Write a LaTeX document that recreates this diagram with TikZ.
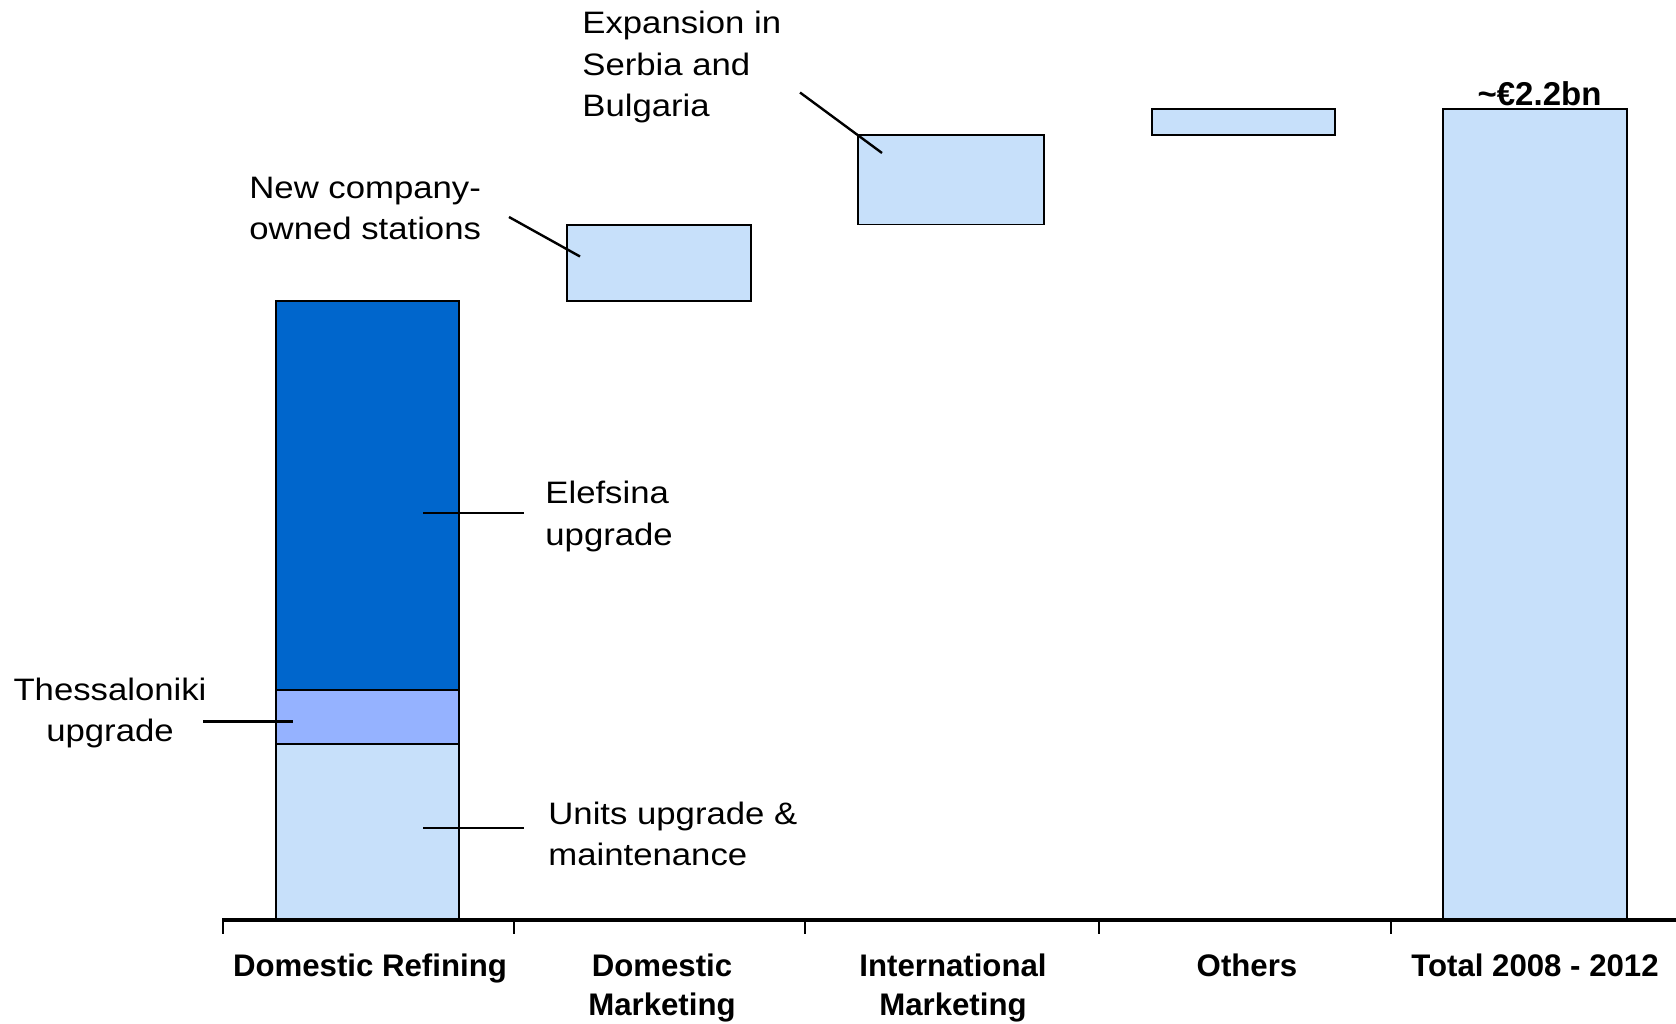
\documentclass[tikz,border=0pt]{standalone}
\usepackage{fontspec}
\setmainfont{Liberation Sans}
\usepackage{graphicx}
\usepackage{tikz}
\usetikzlibrary{positioning}

\definecolor{lightbar}{RGB}{199,224,250}
\definecolor{darkbar}{RGB}{0,102,204}
\definecolor{midbar}{RGB}{149,178,255}

% text lines, slightly widened like the slide font
\newcommand{\widetext}[2][l]{\scalebox{1.12}[1]{\begin{tabular}[t]{@{}#1@{}}#2\end{tabular}}}
\newcommand{\cattext}[1]{\begin{tabular}[t]{@{}c@{}}#1\end{tabular}}

\tikzset{
  bar/.style={draw=black, line width=0.9pt},
  leader/.style={draw=black, line width=1.2pt},
  note/.style={inner sep=0pt, font=\fontsize{15.5}{20.75}\selectfont},
  catlabel/.style={inner sep=0pt, anchor=base, font=\fontsize{15.6}{19.5}\selectfont\bfseries},
}

\begin{document}
\begin{tikzpicture}[x=0.5pt, y=-0.5pt]
  \useasboundingbox (0,0) rectangle (1676,1023);

  % draw the Domestic Refining bar in three parts
  \filldraw[bar, fill=lightbar] (276,920) rectangle (459,744);
  \filldraw[bar, fill=midbar] (276,744) rectangle (459,690);
  \filldraw[bar, fill=darkbar] (276,690) rectangle (459,301);

  % draw the floating bars
  \filldraw[bar, fill=lightbar] (567,301) rectangle (751,225);
  \filldraw[bar, fill=lightbar] (858,224.5) rectangle (1044,135);
  \filldraw[bar, fill=lightbar] (1152,135) rectangle (1335,109);

  % draw the total bar
  \filldraw[bar, fill=lightbar] (1443,920) rectangle (1627,109);
  \node[catlabel, font=\fontsize{16.5}{19.5}\selectfont\bfseries] (total) at (1539.5,105) {\textasciitilde€2.2bn};

  % draw the axis and the ticks
  \draw[line width=2pt] (222,920) -- (1676,920);
  \foreach \x in {222.5, 514, 805, 1099, 1391}
    \draw[line width=1pt] (\x,920) -- (\x,934);

  % draw the category names
  \node[catlabel] (refining) at (370,976) {\cattext{Domestic Refining}};
  \node[catlabel] (marketing) at (662,976) {\cattext{Domestic\\Marketing}};
  \node[catlabel] (intl) at (953,976) {\cattext{International\\Marketing}};
  \node[catlabel] (others) at (1247,976) {\cattext{Others}};
  \node[catlabel] (period) at (1535,976) {\cattext{Total 2008 - 2012}};

  % draw the notes
  \node[note, anchor=base west] (stations) at (249,198) {\widetext{New company-\\owned stations}};
  \node[note, anchor=base west] (serbia) at (582,33.5) {\widetext{Expansion in\\Serbia and\\Bulgaria}};
  \node[note, anchor=base west] (elefsina) at (545,503.5) {\widetext{Elefsina\\upgrade}};
  \node[note, anchor=base] (thess) at (110,700) {\widetext[c]{Thessaloniki\\upgrade}};
  \node[note, anchor=base west] (units) at (548,824) {\widetext{Units upgrade \&\\maintenance}};

  % draw the leader lines
  \coordinate (stationsA) at (509,217);
  \coordinate (stationsB) at (580,256.5);
  \coordinate (serbiaA) at (800,92.5);
  \coordinate (serbiaB) at (882,153);
  \coordinate (elefsinaA) at (423,513);
  \coordinate (elefsinaB) at (524,513);
  \coordinate (thessA) at (203,721.5);
  \coordinate (thessB) at (293,721.5);
  \coordinate (unitsA) at (423,828);
  \coordinate (unitsB) at (524,828);
  \draw[leader] (stationsA) -- (stationsB);
  \draw[leader] (serbiaA) -- (serbiaB);
  \draw[leader] (elefsinaA) -- (elefsinaB);
  \draw[leader] (thessA) -- (thessB);
  \draw[leader] (unitsA) -- (unitsB);

\end{tikzpicture}
\end{document}
